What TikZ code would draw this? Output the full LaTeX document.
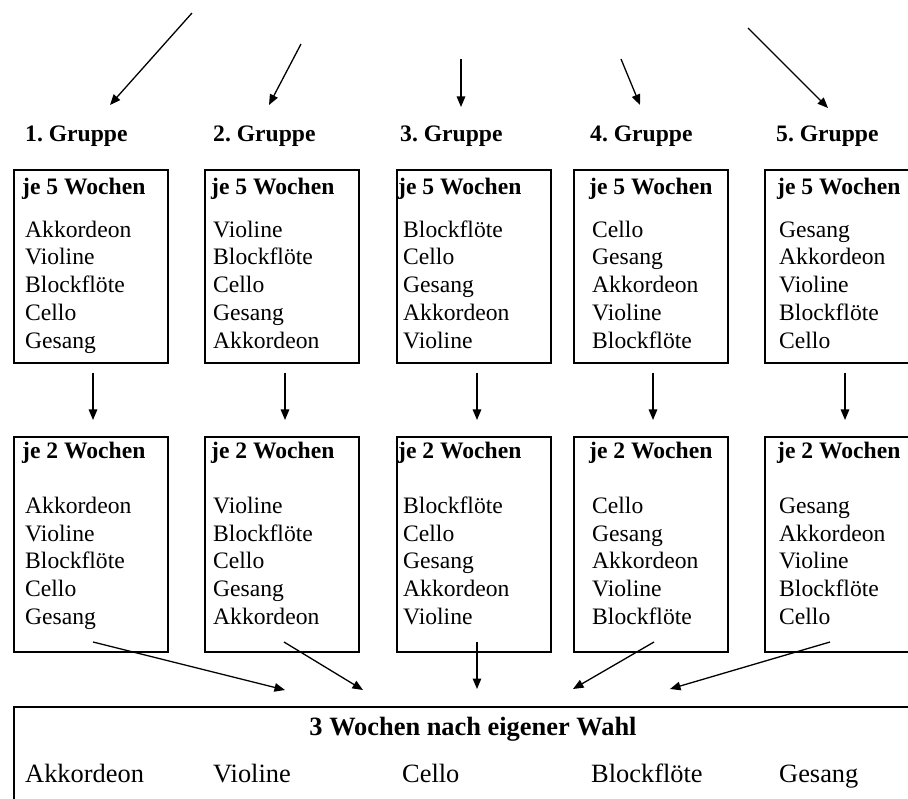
\documentclass[tikz,border=0pt]{standalone}
\usepackage{fontspec}
\setmainfont{Liberation Serif}
\usetikzlibrary{arrows.meta}
\tikzset{
  boxframe/.style={draw, line width=1.9pt, minimum width=154pt, inner sep=0pt, anchor=north west},
  txt/.style={inner sep=0pt, anchor=base west, font=\fontsize{23.6}{28}\selectfont},
  btxt/.style={inner sep=0pt, anchor=base west, font=\fontsize{23.6}{28}\selectfont\bfseries},
  bigtxt/.style={inner sep=0pt, anchor=base west, font=\fontsize{26.4}{31}\selectfont},
  arr/.style={line width=1.3pt, -{Triangle[length=10.5pt,width=8.5pt]}},
}
\begin{document}
\frenchspacing
\begin{tikzpicture}[x=1pt,y=-1pt]
\useasboundingbox (0,0) rectangle (908,799);
\clip (0,0) rectangle (908,799);

% top arrows
\coordinate (ts1) at (192,13);  \coordinate (te1) at (110,105);
\coordinate (ts2) at (301,44);  \coordinate (te2) at (269,105);
\coordinate (ts3) at (461,59);  \coordinate (te3) at (461,107);
\coordinate (ts4) at (621,59);  \coordinate (te4) at (640,105);
\coordinate (ts5) at (748,28);  \coordinate (te5) at (828,108);
\foreach \k in {1,...,5} { \draw[arr] (ts\k) -- (te\k); }

\foreach \k/\bx/\hx/\ix/\gx/\mx/\instA/\instB/\instC/\instD/\instE in {
  1/13/22/25/25/93/Akkordeon/Violine/Blockflöte/Cello/Gesang,
  2/204/211/213/213/285/Violine/Blockflöte/Cello/Gesang/Akkordeon,
  3/396/398/403/400/477/Blockflöte/Cello/Gesang/Akkordeon/Violine,
  4/573/589/592/590/653/Cello/Gesang/Akkordeon/Violine/Blockflöte,
  5/764/777/779/776/845/Gesang/Akkordeon/Violine/Blockflöte/Cello} {
  % group label
  \node[btxt] (g\k) at (\gx,141.5) {\k.\ Gruppe};
  % upper box
  \node[boxframe, minimum height=193pt] (u\k) at (\bx,169) {};
  \node[btxt] (uh\k) at (\hx,195) {je 5 Wochen};
  \node[txt] (ua\k) at (\ix,237.3) {\instA};
  \node[txt] (ub\k) at (\ix,265.0) {\instB};
  \node[txt] (uc\k) at (\ix,292.7) {\instC};
  \node[txt] (ud\k) at (\ix,320.6) {\instD};
  \node[txt] (ue\k) at (\ix,348.3) {\instE};
  % middle arrow
  \coordinate (ms\k) at (\mx,373);
  \coordinate (me\k) at (\mx,420);
  \draw[arr] (ms\k) -- (me\k);
  % lower box
  \node[boxframe, minimum height=215pt] (l\k) at (\bx,436) {};
  \node[btxt] (lh\k) at (\hx,458.3) {je 2 Wochen};
  \node[txt] (la\k) at (\ix,513.3) {\instA};
  \node[txt] (lb\k) at (\ix,541.0) {\instB};
  \node[txt] (lc\k) at (\ix,568.8) {\instC};
  \node[txt] (ld\k) at (\ix,596.6) {\instD};
  \node[txt] (le\k) at (\ix,624.3) {\instE};
}

% bottom arrows
\coordinate (bs1) at (93,642);  \coordinate (be1) at (285,690);
\coordinate (bs2) at (284,642); \coordinate (be2) at (363,690);
\coordinate (bs3) at (477,642); \coordinate (be3) at (477,689);
\coordinate (bs4) at (654,642); \coordinate (be4) at (573,689);
\coordinate (bs5) at (830,642); \coordinate (be5) at (670,689);
\foreach \k in {1,...,5} { \draw[arr] (bs\k) -- (be\k); }

% bottom box
\node[draw, line width=2pt, inner sep=0pt, anchor=north west,
      minimum width=1000pt, minimum height=200pt] (bot) at (13,706) {};
\node[inner sep=0pt, anchor=base, font=\fontsize{26.4}{31}\selectfont\bfseries]
      (bt) at (473,735) {3 Wochen nach eigener Wahl};
\node[bigtxt] (b1) at (25,782)  {Akkordeon};
\node[bigtxt] (b2) at (213,782) {Violine};
\node[bigtxt] (b3) at (402,782) {Cello};
\node[bigtxt] (b4) at (591,782) {Blockflöte};
\node[bigtxt] (b5) at (779,782) {Gesang};
\end{tikzpicture}
\end{document}
